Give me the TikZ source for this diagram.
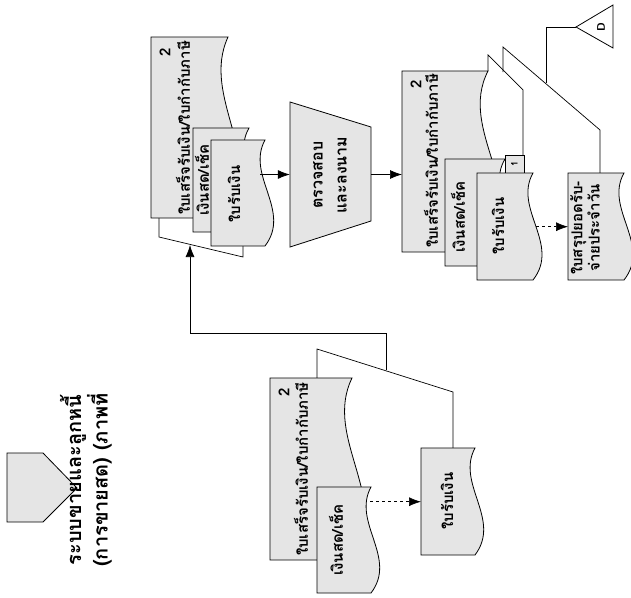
\documentclass[tikz,border=0pt]{standalone}
\usepackage{fontspec}
\newfontfamily\thai[Script=Thai]{Loma}
\usetikzlibrary{arrows.meta}
\tikzset{
  docfill/.style={draw=black, line width=0.8pt, fill=black!10},
  lbl/.style={rotate=90, inner sep=0pt, font=\thai\bfseries\fontsize{15}{17}\selectfont},
  lbltwo/.style={lbl, align=center, font=\thai\bfseries\fontsize{15}{14}\selectfont},
  traplbl/.style={lbl, align=center, font=\thai\bfseries\fontsize{16}{24}\selectfont},
  legendlbl/.style={rotate=90, inner sep=0pt, align=center, font=\thai\bfseries\fontsize{20}{17}\selectfont},
  flow/.style={draw=black, line width=0.7pt},
  arr/.style={flow, -{Latex[length=12pt,width=9pt]}},
  darr/.style={arr, dashed},
}
\newcommand{\docshape}[5]{%
  \node[inner sep=0pt, minimum width=#4pt, minimum height=#5pt, anchor=north west] (#1) at (#2,#3) {};
  \path[docfill] (#2,#3) -- ({#2+#4},#3)
    .. controls +({-0.36*#4},{#5/3}) and +({0.5*#4},{-#5/3}) .. ({#2+#4},{#3+#5})
    -- (#2,{#3+#5}) -- cycle;
}
\begin{document}
\begin{tikzpicture}[x=1pt,y=-1pt]
\useasboundingbox (0,0) rectangle (631,597);

% ---------- connector coordinates ----------
\coordinate (b1) at (159,218);
\coordinate (b2) at (159,237);
\coordinate (b3) at (243,257);
\coordinate (b4) at (243,246);
\coordinate (fb0) at (386,370);
\coordinate (fb1) at (386,333);
\coordinate (fb2) at (190,333);
\coordinate (fbt) at (190,245);
\coordinate (a1) at (317,378);
\coordinate (a2) at (317,349);
\coordinate (a3) at (453,392);
\coordinate (a4) at (453,448);
\coordinate (c1) at (488,71);
\coordinate (c2) at (488,55);
\coordinate (c3) at (523,90);
\coordinate (c4) at (523,155);
\coordinate (d1) at (503,72);
\coordinate (d2) at (503,47);
\coordinate (d3) at (600,130);
\coordinate (d4) at (600,173);
\coordinate (e1) at (546,27);
\coordinate (e2) at (546,83);

% ---------- lines behind documents ----------
\draw[flow] (b1) -- (b2) -- (b3) -- (b4);
\draw[flow] (a1) -- (a2) -- (a3) -- (a4);
\draw[flow] (c1) -- (c2) -- (c3) -- (c4);
\draw[flow] (d1) -- (d2) -- (d3) -- (d4);

% ---------- legend ----------
\path[docfill] (7,453) -- (43,453) -- (77,488) -- (43,522) -- (7,522) -- cycle;
\node[inner sep=0pt] (legend) at (40,488) {};
\node[legendlbl] (legendtext) at (86,480) {ระบบขายและลูกหนี้\\(การขายสด) (ภาพที่};

% ---------- group B ----------
\docshape{B1}{151}{37}{77}{181}
\node[lbl] (B1n) at (165,52) {2};
\node[lbl] (B1t) at (183,128) {ใบเสร็จรับเงิน/ใบกำกับภาษี};
\docshape{B2}{193}{128}{56}{104}
\node[lbl] (B2t) at (202,180) {เงินสด/เช็ค};
\docshape{B3}{211}{140}{54}{106}
\node[lbl] (B3t) at (234,194) {ใบรับเงิน};

% trapezoid
\path[docfill] (290,102) -- (371,127) -- (371,221) -- (290,247) -- cycle;
\node[inner sep=0pt, minimum width=81pt, minimum height=145pt] (T) at (330.5,174.5) {};
\node[traplbl] (Tt) at (330,175) {ตรวจสอบ\\และลงนาม};

% ---------- group C ----------
\docshape{C1}{402}{71}{86}{181}
\node[lbl] (C1n) at (416,84) {2};
\node[lbl] (C1t) at (431,161) {ใบเสร็จรับเงิน/ใบกำกับภาษี};
\draw[docfill] (505,155) rectangle (524,173);
\node[lbl, font=\thai\bfseries\fontsize{9}{10}\selectfont] (S1) at (514.5,164) {1};
\docshape{C2}{445}{159}{60}{107}
\node[lbl] (C2t) at (458,217) {เงินสด/เช็ค};
\docshape{C3}{477}{173}{56}{107}
\node[lbl] (C3t) at (498,226) {ใบรับเงิน};
\docshape{C4}{568}{173}{56}{107}
\node[lbltwo] (C4t) at (585,228) {ใบสรุปยอดรับ-\\จ่ายประจำวัน};

% off-page file D
\path[docfill, fill=white] (576,27) -- (613,5) -- (613,48) -- cycle;
\coordinate (Dtip) at (576,27);
\node[rotate=90, inner sep=0pt, font=\sffamily\bfseries\fontsize{11}{12}\selectfont] (Dt) at (601,27) {D};
\draw[flow] (Dtip) -- (e1) -- (e2);

% ---------- group A ----------
\docshape{A1}{270}{378}{82}{182}
\node[lbl] (A1n) at (284,392) {2};
\node[lbl] (A1t) at (301,469) {ใบเสร็จรับเงิน/ใบกำกับภาษี};
\docshape{A2}{317}{487}{54}{106}
\node[lbl] (A2t) at (336,540) {เงินสด/เช็ค};
\docshape{A3}{421}{448}{54}{107}
\node[lbl] (A3t) at (447,501) {ใบรับเงิน};

% ---------- arrows ----------
\draw[arr] (fb0) -- (fb1) -- (fb2) -- (fbt);
\draw[arr] ([xshift=-5pt]B3.east |- T.west) -- (T.west);
\draw[arr] (T.east) -- (C1.west |- T.east);
\draw[darr] ([xshift=-1pt]A2.east |- A3.west) -- (A3.west);
\draw[darr] ([xshift=3pt]C3.east |- C4.west) -- (C4.west);
\end{tikzpicture}
\end{document}
